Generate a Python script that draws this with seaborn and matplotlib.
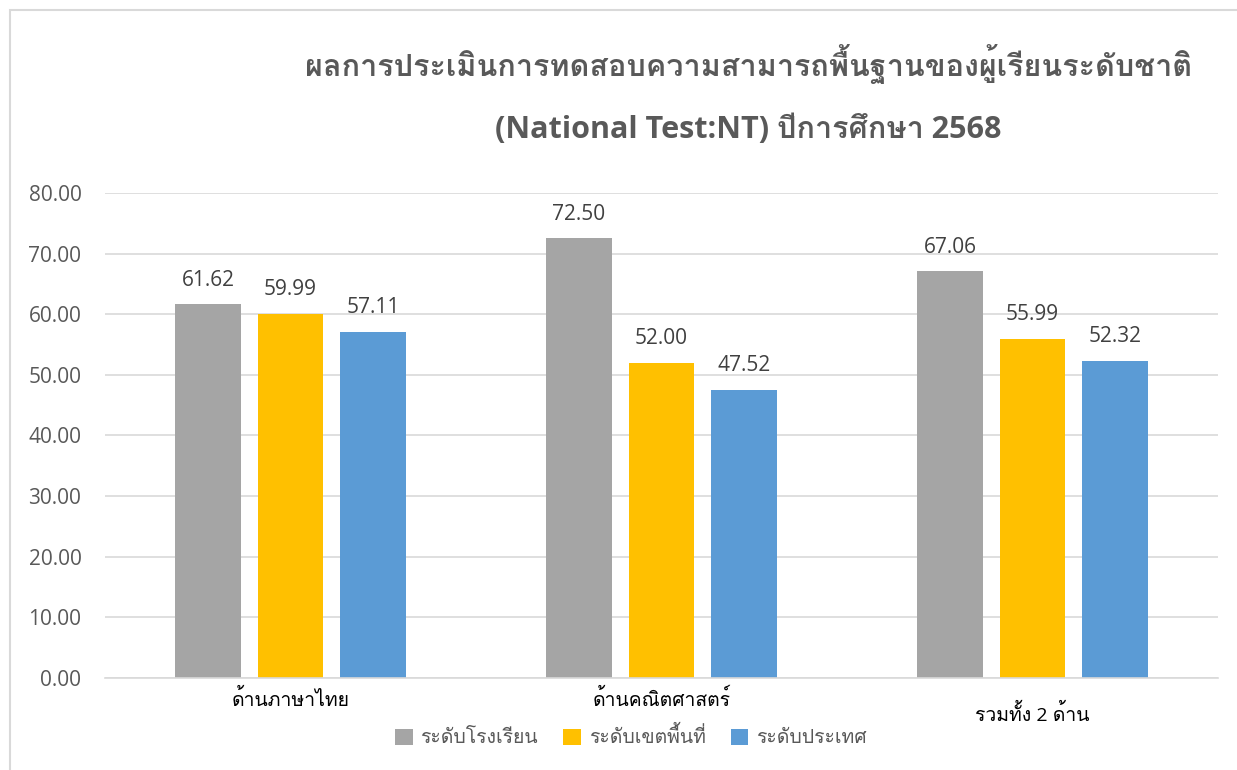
import seaborn as sns
import pandas as pd
import matplotlib.pyplot as plt
from matplotlib import font_manager
from matplotlib.ft2font import FT2Font
from matplotlib.patches import Rectangle

# Chart data
categories = ['ด้านภาษาไทย', 'ด้านคณิตศาสตร์', 'รวมทั้ง 2 ด้าน']
series = ['ระดับโรงเรียน', 'ระดับเขตพื้นที่', 'ระดับประเทศ']
school = [61.62, 72.50, 67.06]
area = [59.99, 52.00, 55.99]
nation = [57.11, 47.52, 52.32]
colors = ['#A5A5A5', '#FFC000', '#5B9BD5']


def find_thai_font():
    # look for any installed font that has Thai glyphs
    for f in font_manager.fontManager.ttflist:
        try:
            if 0x0E01 in FT2Font(f.fname).get_charmap():
                return f.name
        except Exception:
            pass
    return None


def main():
    df = pd.DataFrame({
        'category': categories * 3,
        'series': [s for s in series for _ in categories],
        'value': school + area + nation,
    })

    sns.set_style('white')
    thai = find_thai_font()
    fams = ['Open Sans', 'DejaVu Sans']
    if thai:
        fams = ['Open Sans', thai, 'DejaVu Sans']
    plt.rcParams['font.family'] = fams

    fig = plt.figure(figsize=(12.37, 7.70), dpi=100)
    ax = fig.add_axes([0.0849, 0.1195, 0.8997, 0.6299])

    sns.barplot(data=df, x='category', y='value', hue='series',
                palette=colors, width=0.667, gap=0.21, saturation=1,
                linewidth=0, ax=ax, legend=True)

    ax.set_ylim(0, 80)
    ax.set_xlim(-0.5, 2.5)
    ax.set_yticks(range(0, 81, 10))
    ax.set_yticklabels([f'{v:.2f}' for v in range(0, 81, 10)],
                       fontsize=15, color='#595959')
    ax.yaxis.grid(True, color='#D9D9D9', linewidth=1.2)
    ax.set_axisbelow(True)
    for s in ['top', 'right', 'left']:
        ax.spines[s].set_visible(False)
    ax.spines['bottom'].set_color('#D9D9D9')
    ax.spines['bottom'].set_linewidth(1.2)
    ax.tick_params(axis='y', length=0, pad=17)
    ax.tick_params(axis='x', length=0, pad=8)
    ax.set_xticks(range(len(categories)))
    ax.set_xticklabels(categories, fontsize=14, color='black')
    # the last category label sits a little lower in the reference
    ax.get_xticklabels()[2].set_y(-0.03)
    ax.set_xlabel('')
    ax.set_ylabel('')

    for cont in ax.containers:
        ax.bar_label(cont, fmt='%.2f', padding=10, fontsize=15, color='#404040')

    # legend at the bottom
    handles, labels = ax.get_legend_handles_labels()
    ax.get_legend().remove()
    fig.legend(handles, labels, loc='center', bbox_to_anchor=(0.51, 0.043),
               ncol=3, frameon=False, fontsize=14, handlelength=0.9,
               handleheight=0.9, handletextpad=0.4, columnspacing=1.3,
               labelcolor='#595959')

    # title
    fig.text(0.605, 0.917, 'ผลการประเมินการทดสอบความสามารถพื้นฐานของผู้เรียนระดับชาติ',
             ha='center', va='center', fontsize=22, fontweight='bold', color='#595959')
    fig.text(0.605, 0.832, '(National Test:NT) ปีการศึกษา 2568',
             ha='center', va='center', fontsize=22, fontweight='bold', color='#595959')

    # chart area border
    fig.patches.append(Rectangle((10 / 1237, -0.1), 1.2, 1.1 - 10 / 770,
                                 transform=fig.transFigure, fill=False,
                                 edgecolor='#D9D9D9', linewidth=1.5))

    fig.savefig('out.png', dpi=100)


if __name__ == '__main__':
    main()
